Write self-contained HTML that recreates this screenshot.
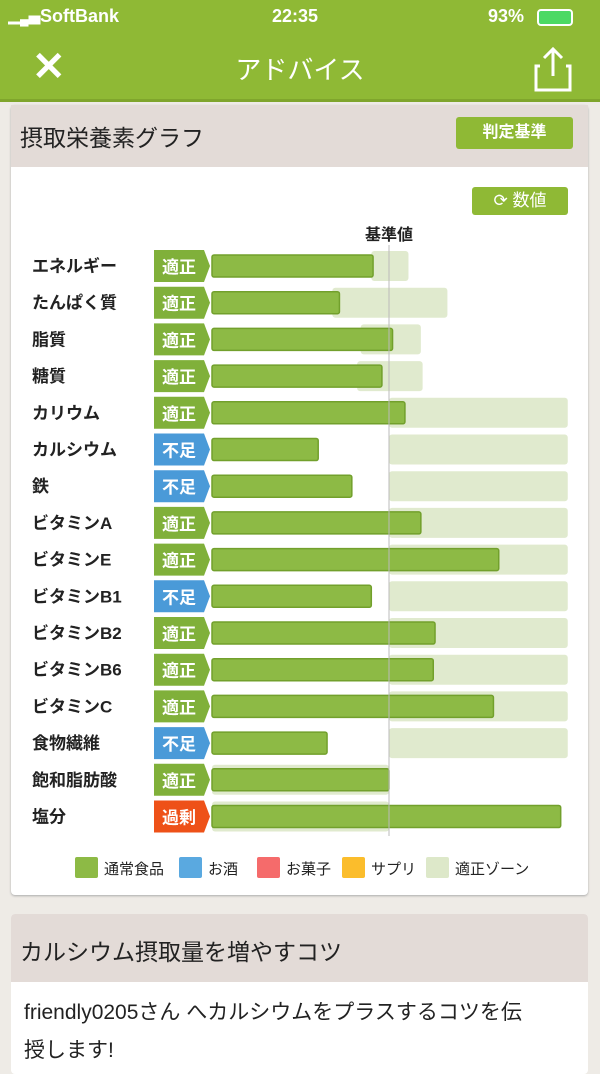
<!DOCTYPE html>
<html><head><meta charset="utf-8">
<style>
*{margin:0;padding:0;box-sizing:border-box}
body{width:600px;height:1068px;overflow:hidden;background:#eeebe6;font-family:"Liberation Sans","Noto Sans CJK JP",sans-serif;position:relative}
.abs{position:absolute}
</style></head><body>
<div class="abs" style="left:0;top:0;width:600px;height:36px;background:#8fb935;color:#fff;font-size:18px;font-weight:bold">
 <span class="abs" style="left:40px;top:6px">SoftBank</span>
 <span class="abs" style="left:8px;top:10px;font-size:12px">▂▄▆</span>
 <span class="abs" style="left:272px;top:6px">22:35</span>
 <span class="abs" style="left:488px;top:6px">93%</span>
 <span class="abs" style="left:537px;top:9px;width:36px;height:17px;border:2px solid #fff;border-radius:4px;background:#4cd964"></span>
</div>
<div class="abs" style="left:0;top:36px;width:600px;height:66px;background:#8fb935;border-bottom:3px solid #7fa52c">
 <span class="abs" style="left:32px;top:8px;color:#fff;font-size:40px;font-weight:bold">✕</span>
 <span class="abs" style="left:0;width:600px;top:14px;text-align:center;color:#fff;font-size:26px">アドバイス</span>
 <svg class="abs" style="left:532px;top:10px" width="46" height="48"><path d="M8 20 H4 V44 H38 V20 H34 M21 30 V4 M12 12 L21 3 L30 12" fill="none" stroke="#fff" stroke-width="3"/></svg>
</div>
<div class="abs" style="left:11px;top:105px;width:577px;height:790px;background:#fff;border-radius:4px;box-shadow:0 1px 2px #aaa">
 <div class="abs" style="left:0;top:0;width:577px;height:62px;background:#e3dbd7">
  <span class="abs" style="left:9px;top:14px;font-size:23px;color:#222">摂取栄養素グラフ</span>
  <span class="abs" style="left:445px;top:12px;width:117px;height:32px;background:#8fb935;border-radius:3px;color:#fff;font-size:16px;font-weight:bold;text-align:center;line-height:32px">判定基準</span>
 </div>
 <span class="abs" style="left:461px;top:82px;width:96px;height:28px;background:#8fb935;border-radius:3px;color:#fff;font-size:17px;text-align:center;line-height:28px">⟳ 数値</span>
</div>
<svg class="abs" id="chart" style="left:0;top:0" width="600" height="900"></svg>
<div class="abs" style="left:11px;top:914px;width:577px;height:160px;background:#fff;border-radius:4px">
 <div class="abs" style="left:0;top:0;width:577px;height:68px;background:#e3dbd7;border-radius:4px 4px 0 0">
  <span class="abs" style="left:9px;top:19px;font-size:23px;color:#222">カルシウム摂取量を増やすコツ</span>
 </div>
 <div class="abs" style="left:13px;top:80px;width:562px;font-size:21px;line-height:38px;color:#222;white-space:nowrap">friendly0205さん へカルシウムをプラスするコツを伝<br>授します!</div>
</div>
<script>
const categories=["エネルギー","たんぱく質","脂質","糖質","カリウム","カルシウム","鉄","ビタミンA","ビタミンE","ビタミンB1","ビタミンB2","ビタミンB6","ビタミンC","食物繊維","飽和脂肪酸","塩分"];
const values=[91,72,102,96,109,60,79,118,162,90,126,125,159,65,100,197];
const zoneMin=[90,68,84,82,100,100,100,100,100,100,100,100,100,100,0,0];
const zoneMax=[111,133,118,119,201,201,201,201,201,201,201,201,201,201,100,100];
const judgments=["適正","適正","適正","適正","適正","不足","不足","適正","適正","不足","適正","適正","適正","不足","適正","過剰"];
const legendLabels=["通常食品","お酒","お菓子","サプリ","適正ゾーン"];
const legendColors=["#8dba45","#5aa9e0","#f56b6b","#fbbd2c","#dde8c9"];
const x=v=>212+v*1.77;
const y=i=>266+i*36.7;
const jc={"適正":"#80b03a","不足":"#4a9ad8","過剰":"#ee5118"};
const svg=document.getElementById('chart');
const NS="http://www.w3.org/2000/svg";
function mk(t,a){const e=document.createElementNS(NS,t);for(const k in a)e.setAttribute(k,a[k]);svg.appendChild(e);return e;}
categories.forEach((c,i)=>{
 const cy=y(i);
 const z=mk('rect',{x:x(zoneMin[i]),y:cy-15,width:x(zoneMax[i])-x(zoneMin[i]),height:30,rx:3,fill:'#dde8c9',opacity:0.9});
 
 
 const t=mk('text',{x:32,y:cy+6,'font-size':17,'font-weight':'bold',fill:'#222'});t.textContent=c;
 
 
 const col=jc[judgments[i]];
 const b=mk('path',{d:`M154 ${cy-16} h50 l6 ${16} l-6 ${16} h-50 z`,fill:col});
 
 
 const bt=mk('text',{x:179,y:cy+7,'font-size':17,'font-weight':'bold',fill:'#fff','text-anchor':'middle'});bt.textContent=judgments[i];
 
 
 const bar=mk('rect',{x:x(0),y:cy-11,width:x(values[i])-x(0),height:22,rx:2,fill:'#8dba45',stroke:'#72a02c','stroke-width':1.5});
 
 
});
const rl=mk('line',{x1:x(100),x2:x(100),y1:245,y2:836,stroke:'#bbb','stroke-width':1});


const rt=mk('text',{x:x(100),y:240,'font-size':16,'font-weight':'bold',fill:'#222','text-anchor':'middle'});rt.textContent="基準値";


const lx=[75,179,257,342,426];
legendLabels.forEach((l,i)=>{
 const r=mk('rect',{x:lx[i],y:857,width:23,height:21,rx:2,fill:legendColors[i]});
 
 
 const t=mk('text',{x:lx[i]+29,y:874,'font-size':15,fill:'#222'});t.textContent=l;
 
 
});
</script>
</body></html>
